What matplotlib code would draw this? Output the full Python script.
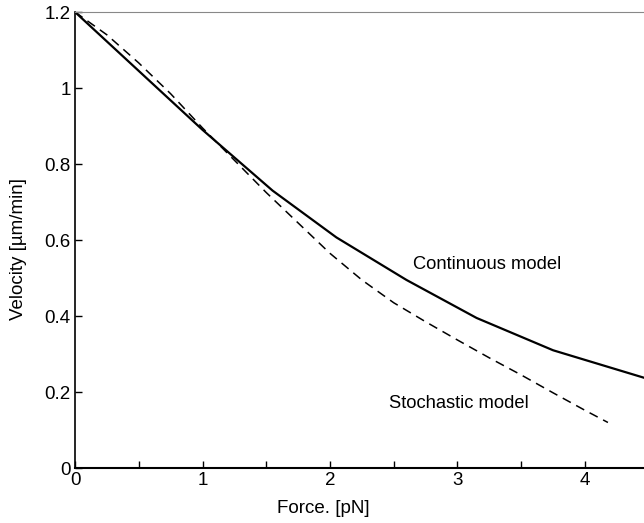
import matplotlib
matplotlib.use("Agg")
import matplotlib.pyplot as plt
from matplotlib.ticker import MultipleLocator, FuncFormatter

plt.rcParams['font.family'] = ['Liberation Sans', 'DejaVu Sans']

# continuous model (solid)
cont_force = [0, 0.5, 1.0, 1.55, 2.05, 2.6, 3.15, 3.75, 4.47]
cont_vel = [1.2, 1.045, 0.89, 0.73, 0.607, 0.495, 0.395, 0.31, 0.237]

# stochastic model (dashed)
stoch_force = [0, 0.25, 0.5, 0.75, 1.0, 1.25, 1.5, 1.75, 2.0, 2.25, 2.5,
               2.75, 3.0, 3.25, 3.5, 3.75, 4.0, 4.18]
stoch_vel = [1.2, 1.14, 1.066, 0.985, 0.895, 0.81, 0.725, 0.645, 0.565, 0.495,
             0.435, 0.385, 0.337, 0.29, 0.245, 0.198, 0.152, 0.12]


def fmt(v, pos):
    return f"{v:g}"


fig = plt.figure(figsize=(6.44, 5.23), dpi=100)
ax = fig.add_axes([0.1165, 0.105, 0.8835, 0.872])

ax.plot(cont_force, cont_vel, color='black', lw=1.6)
ax.plot(stoch_force, stoch_vel, color='black', lw=1.1, dashes=(6, 4))

ax.text(2.65, 0.535, "Continuous model", fontsize=13.2, va='center')
ax.text(2.46, 0.17, "Stochastic model", fontsize=13.2, va='center')

ax.set_xlim(0, 4.463)
ax.set_ylim(0, 1.2)
ax.xaxis.set_major_locator(MultipleLocator(1))
ax.xaxis.set_minor_locator(MultipleLocator(0.5))
ax.yaxis.set_major_locator(MultipleLocator(0.2))
ax.yaxis.set_major_formatter(FuncFormatter(fmt))
ax.xaxis.set_major_formatter(FuncFormatter(fmt))
ax.tick_params(which='both', direction='in', length=5, width=1, labelsize=13.5,
               top=False, right=False)
ax.tick_params(axis='x', pad=3)
ax.tick_params(axis='y', pad=3)

ax.spines['right'].set_visible(False)
ax.spines['top'].set_color('#888888')
ax.spines['left'].set_linewidth(1.2)
ax.spines['bottom'].set_linewidth(1.5)

ax.set_xlabel("Force. [pN]", fontsize=13.5)
ax.set_ylabel("Velocity [µm/min]", fontsize=13.5)
ax.xaxis.set_label_coords(0.436, -0.07)
ax.yaxis.set_label_coords(-0.084, 0.48)

fig.savefig("out.png", dpi=100)
